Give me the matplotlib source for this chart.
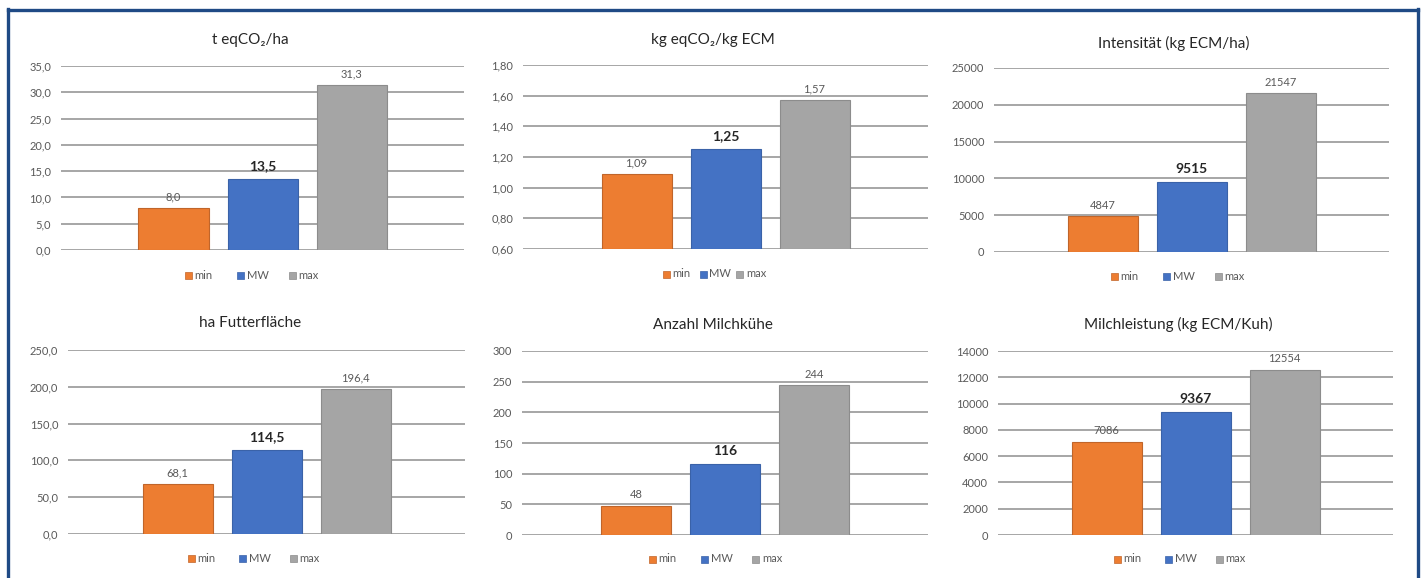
import matplotlib
matplotlib.use("Agg")
import matplotlib.pyplot as plt
from matplotlib.patches import Rectangle
from matplotlib.lines import Line2D
from matplotlib.ticker import FixedLocator, FuncFormatter

plt.rcParams["font.family"] = ["Lato", "DejaVu Sans"]

# ---- data ----
series = ["min", "MW", "max"]
colors = ["#ED7D31", "#4472C4", "#A5A5A5"]
edges = ["#C0652A", "#3A62A8", "#8C8C8C"]

titles = [
    "t eqCO₂/ha",
    "kg eqCO₂/kg ECM",
    "Intensität (kg ECM/ha)",
    "ha Futterfläche",
    "Anzahl Milchkühe",
    "Milchleistung (kg ECM/Kuh)",
]
co2_per_ha = [8.0, 13.5, 31.3]
co2_per_kg = [1.09, 1.25, 1.57]
intensity = [4847, 9515, 21547]
forage_area = [68.1, 114.5, 196.4]
cows = [48, 116, 244]
milk_yield = [7086, 9367, 12554]
values = [co2_per_ha, co2_per_kg, intensity, forage_area, cows, milk_yield]

y_ranges = [(0, 35), (0.6, 1.8), (0, 25000), (0, 250), (0, 300), (0, 14000)]
y_steps = [5, 0.2, 5000, 50, 50, 2000]
decimals = [1, 2, 0, 1, 0, 0]

# ---- layout (pixels) ----
W, H = 1422, 578
fig = plt.figure(figsize=(W / 100, H / 100), dpi=100)

# plot areas: x0, x1, y_top, y_bottom
areas = [
    (61, 464, 66, 250),
    (523, 928, 65, 249),
    (994, 1389, 68, 252),
    (68, 465, 350, 534),
    (522, 928, 351, 535),
    (998, 1393, 351, 535),
]
title_pos = [(250, 40), (713, 40), (1174, 43), (250, 323), (713, 325), (1178, 324)]
legend_pos = [(240, 275, 52), (703, 274, 37), (1166, 276, 52),
              (242, 558, 51), (704, 559, 52), (1168, 559, 51)]

BAR_PX = 70
STEP_PX = 89
text_gray = "#595959"


def fmt(v, d):
    return f"{v:.{d}f}".replace(".", ",")


for k in range(6):
    x0, x1, yt, yb = areas[k]
    ax = fig.add_axes([x0 / W, 1 - yb / H, (x1 - x0) / W, (yb - yt) / H])
    wpx = x1 - x0
    ax.set_xlim(-0.5, 0.5)
    lo, hi = y_ranges[k]
    ax.set_ylim(lo, hi)
    n = int(round((hi - lo) / y_steps[k]))
    ticks = [lo + i * y_steps[k] for i in range(n + 1)]
    ax.yaxis.set_major_locator(FixedLocator(ticks))
    d = decimals[k]
    ax.yaxis.set_major_formatter(FuncFormatter(lambda v, p, d=d: fmt(v, d)))
    ax.tick_params(axis="y", length=0, pad=7, labelsize=8, labelcolor=text_gray)
    ax.set_xticks([])
    for s in ax.spines.values():
        s.set_visible(False)
    ax.grid(axis="y", color="#A6A6A6", linewidth=1.4)
    ax.set_axisbelow(True)

    bw = BAR_PX / wpx
    step = STEP_PX / wpx
    vals = values[k]
    for i, v in enumerate(vals):
        xc = (i - 1) * step
        ax.bar(xc, v - lo, bottom=lo, width=bw, color=colors[i],
               edgecolor=edges[i], linewidth=0.8, zorder=3)
        bold = series[i] == "MW"
        ax.annotate(fmt(v, d), (xc, v), xytext=(0, 5 if bold else 4),
                    textcoords="offset points", ha="center", va="bottom",
                    fontsize=10 if bold else 8,
                    fontweight="bold" if bold else "normal",
                    color="#262626" if bold else text_gray, zorder=4)

    # title
    tx, ty = title_pos[k]
    fig.text(tx / W, 1 - ty / H, titles[k], ha="center", va="center",
             fontsize=11, color="#262626")

    # legend
    lx, ly, sp = legend_pos[k]
    for i, name in enumerate(series):
        mx = lx + (i - 1) * sp
        fig.patches.append(Rectangle(((mx - 3.5) / W, 1 - (ly + 3.5) / H), 7 / W, 7 / H,
                                     transform=fig.transFigure, facecolor=colors[i],
                                     edgecolor=edges[i], linewidth=0.5))
        fig.text((mx + 6.5) / W, 1 - ly / H, name, ha="left", va="center",
                 fontsize=8, color=text_gray)

# dark blue frame
frame = "#1F4A85"
fig.add_artist(Line2D([7.5 / W, 7.5 / W], [0, 1 - 9 / H], color=frame, linewidth=2.4,
                      transform=fig.transFigure, solid_capstyle="projecting"))
fig.add_artist(Line2D([1417.5 / W, 1417.5 / W], [0, 1 - 9 / H], color=frame, linewidth=2.4,
                      transform=fig.transFigure, solid_capstyle="projecting"))
fig.add_artist(Line2D([7.5 / W, 1417.5 / W], [1 - 9.5 / H, 1 - 9.5 / H], color=frame,
                      linewidth=2.4, transform=fig.transFigure, solid_capstyle="projecting"))

fig.savefig("out.png", dpi=100)
